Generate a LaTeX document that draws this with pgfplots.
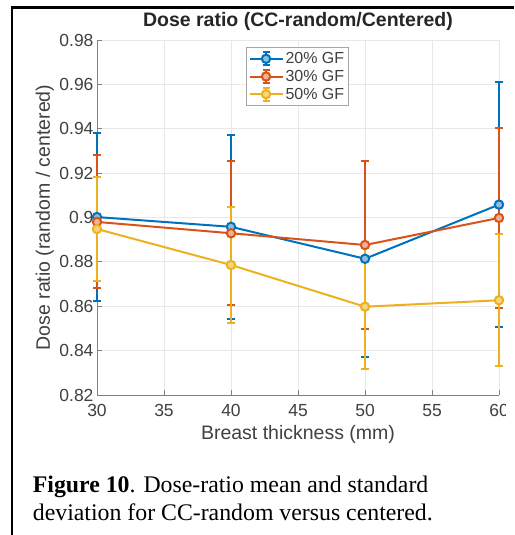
\documentclass[border=0pt]{standalone}
\usepackage{fontspec}
\setmainfont{Liberation Sans}
\newfontfamily\capfont{Liberation Serif}
\usepackage{pgfplots}
\pgfplotsset{compat=1.18}
\definecolor{mblue}{rgb}{0,0.447,0.741}
\definecolor{morange}{rgb}{0.85,0.325,0.098}
\definecolor{myellow}{rgb}{0.929,0.694,0.125}
\definecolor{mtext}{rgb}{0.25,0.25,0.25}
\begin{document}
\begin{tikzpicture}[x=1pt,y=1pt]
\useasboundingbox (0,0) rectangle (514,535);
\begin{scope}
\clip (0,0) rectangle (505,535);
\begin{axis}[
  at={(97pt,140pt)}, anchor=south west,
  width=402pt, height=355pt, scale only axis,
  xmin=30, xmax=60, ymin=0.82, ymax=0.98,
  xtick={30,35,40,45,50,55,60},
  ytick={0.82,0.84,0.86,0.88,0.9,0.92,0.94,0.96,0.98},
  axis x line=bottom, axis y line=left,
  axis line style={-, draw=gray, line width=0.8pt},
  tick style={draw=gray, line width=0.8pt},
  tick align=inside, major tick length=5pt,
  grid=major, major grid style={draw=gray!18, line width=0.8pt},
  clip=false,
  /pgf/number format/assume math mode=true,
  yticklabel style={/pgf/number format/fixed, /pgf/number format/precision=2},
  xticklabel style={yshift=-6pt},
  ticklabel style={font=\fontsize{17.5}{20}\selectfont, text=mtext},
  title={\textbf{Dose ratio (CC-random/Centered)}},
  title style={font=\fontsize{19.5}{22}\selectfont, text=black!85, at={(axis description cs:0.5,1.0197)}, anchor=base},
  xlabel={Breast thickness (mm)},
  xlabel style={font=\fontsize{19.5}{22}\selectfont, text=mtext, at={(axis description cs:0.5,-0.124)}, anchor=base},
  ylabel={Dose ratio (random / centered)},
  ylabel style={font=\fontsize{19.5}{22}\selectfont, text=mtext, at={(axis description cs:-0.117,0.5)}, anchor=base, rotate=0},
  every axis plot/.append style={line width=2pt, mark=*, mark size=4.2pt},
  error bars/y dir=both, error bars/y explicit,
  error bars/error bar style={line width=2pt},
  error bars/error mark options={line width=2pt, mark size=4pt, rotate=90},
  legend cell align=left,
  legend style={at={(axis description cs:0.371,0.98)}, anchor=north west,
    draw=gray!70, line width=0.8pt, fill=white,
    font=\fontsize{16}{17}\selectfont, text=mtext,
    inner xsep=2pt, inner ysep=3pt, row sep=1pt},
  legend image code/.code={
    \draw[#1, mark=none] (0pt,0pt) -- (33pt,0pt);
    \draw[#1, mark=none] (16.5pt,-6.5pt) -- (16.5pt,6.5pt);
    \draw[#1, mark=none] (13pt,6.5pt) -- (20pt,6.5pt);
    \draw[#1, mark=none] (13pt,-6.5pt) -- (20pt,-6.5pt);
    \draw[#1] plot coordinates {(16.5pt,0pt)};
  },
]
\addplot[color=mblue, mark options={fill=mblue!45!white}] table[x=x, y=y, y error=e] {
x y e
30 0.9002 0.0378
40 0.8958 0.0415
50 0.8814 0.0441
60 0.9058 0.0553
};
\addlegendentry{20\% GF}
\addplot[color=morange, mark options={fill=morange!45!white}] table[x=x, y=y, y error=e] {
x y e
30 0.8980 0.0300
40 0.8929 0.0325
50 0.8876 0.0380
60 0.8998 0.0405
};
\addlegendentry{30\% GF}
\addplot[color=myellow, mark options={fill=myellow!55!white}] table[x=x, y=y, y error=e] {
x y e
30 0.8948 0.0236
40 0.8786 0.0262
50 0.8598 0.0282
60 0.8627 0.0297
};
\addlegendentry{50\% GF}
\end{axis}
\end{scope}
\draw[line width=2.5pt] (12,0) -- (12,527.5) -- (514,527.5);
\node[anchor=base west, inner sep=0pt, font=\capfont\fontsize{23.8}{28}\selectfont] at (32.7,42) {\textbf{Figure 10}. Dose-ratio mean and standard};
\node[anchor=base west, inner sep=0pt, font=\capfont\fontsize{23.8}{28}\selectfont] at (32.7,14) {deviation for CC-random versus centered.};
\end{tikzpicture}
\end{document}
